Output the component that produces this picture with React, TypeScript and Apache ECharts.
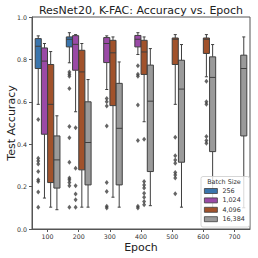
import React, { useEffect, useRef } from "react";
import * as echarts from "echarts";

const epochs = ["100", "200", "300", "400", "500", "600", "700"];
const batchSizes = ["256", "1,024", "4,096", "16,384"];
const colors = ["#3a75ad", "#9a4aa6", "#a1522b", "#9a9a9a"];

// [epochIndex, min, Q1, median, Q3, max]
const box256 = [
  [0, 0.588, 0.757, 0.862, 0.898, 0.911],
  [1, 0.784, 0.859, 0.895, 0.906, 0.926],
];
const box1024 = [
  [0, 0.146, 0.447, 0.792, 0.854, 0.875],
  [1, 0.553, 0.749, 0.871, 0.912, 0.917],
  [2, 0.658, 0.785, 0.875, 0.903, 0.911],
  [3, 0.823, 0.859, 0.895, 0.913, 0.926],
];
const box4096 = [
  [0, 0.103, 0.219, 0.588, 0.776, 0.837],
  [1, 0.103, 0.279, 0.741, 0.843, 0.875],
  [2, 0.15, 0.582, 0.831, 0.89, 0.906],
  [3, 0.506, 0.729, 0.835, 0.89, 0.906],
  [4, 0.588, 0.776, 0.895, 0.901, 0.917],
  [5, 0.718, 0.828, 0.895, 0.901, 0.917],
];
const box16384 = [
  [0, 0.091, 0.193, 0.326, 0.439, 0.534],
  [1, 0.103, 0.208, 0.408, 0.6, 0.705],
  [2, 0.103, 0.208, 0.475, 0.687, 0.788],
  [3, 0.11, 0.271, 0.603, 0.773, 0.851],
  [4, 0.103, 0.315, 0.66, 0.796, 0.87],
  [5, 0.099, 0.365, 0.715, 0.812, 0.87],
  [6, 0.1, 0.439, 0.757, 0.82, 0.906],
];

// [epochIndex, value]
const out256 = [
  [0, 0.517], [0, 0.334], [0, 0.321], [0, 0.307], [0, 0.271], [0, 0.232], [0, 0.224], [0, 0.174], [0, 0.103],
  [1, 0.741], [1, 0.73], [1, 0.721], [1, 0.663], [1, 0.483], [1, 0.431], [1, 0.315], [1, 0.24], [1, 0.232], [1, 0.219], [1, 0.204], [1, 0.103],
];
const out1024 = [
  [1, 0.478], [1, 0.287], [1, 0.204], [1, 0.165], [1, 0.138], [1, 0.103],
  [2, 0.616], [2, 0.6], [2, 0.58], [2, 0.486], [2, 0.219], [2, 0.177], [2, 0.107], [2, 0.099],
  [3, 0.77], [3, 0.73], [3, 0.721], [3, 0.585], [3, 0.417], [3, 0.107], [3, 0.099],
];
const out4096 = [
  [3, 0.423], [3, 0.224], [3, 0.208], [3, 0.193], [3, 0.169], [3, 0.15], [3, 0.13], [3, 0.114],
  [4, 0.433], [4, 0.345], [4, 0.326], [4, 0.31], [4, 0.266], [4, 0.255], [4, 0.24], [4, 0.166],
  [5, 0.697], [5, 0.6], [5, 0.588], [5, 0.436], [5, 0.417], [5, 0.404],
];
const out16384: number[][] = [];

const boxes = [box256, box1024, box4096, box16384];
const outliers = [out256, out1024, out4096, out16384];

const FONT = "DejaVu Sans";
const EDGE = "#3f3f3f";
const FRAME = "#555";

export default function App() {
  const ref = useRef<HTMLDivElement>(null);
  useEffect(() => {
    if (!ref.current) return;
    const chart = echarts.init(ref.current, null, { renderer: "svg" });
    const nHue = batchSizes.length;

    const boxSeries = boxes.map((data, idx) => ({
      type: "custom",
      name: batchSizes[idx],
      xAxisIndex: 0,
      yAxisIndex: 0,
      encode: { x: 0, y: [1, 2, 3, 4, 5] },
      itemStyle: { color: colors[idx] },
      z: 2,
      renderItem: (params: any, api: any) => {
        const xi = api.value(0);
        const band = api.size([1, 0])[0];
        const off = (idx - (nHue - 1) / 2) * band * (0.8 / nHue);
        const w = band * (0.8 / nHue) * 0.98;
        const pMin = api.coord([xi, api.value(1)]);
        const pQ1 = api.coord([xi, api.value(2)]);
        const pMed = api.coord([xi, api.value(3)]);
        const pQ3 = api.coord([xi, api.value(4)]);
        const pMax = api.coord([xi, api.value(5)]);
        const cx = pMin[0] + off;
        const ls = { stroke: EDGE, lineWidth: 1 };
        return {
          type: "group",
          children: [
            { type: "line", shape: { x1: cx, y1: pQ3[1], x2: cx, y2: pMax[1] }, style: ls },
            { type: "line", shape: { x1: cx, y1: pQ1[1], x2: cx, y2: pMin[1] }, style: ls },
            { type: "line", shape: { x1: cx - w / 4, y1: pMax[1], x2: cx + w / 4, y2: pMax[1] }, style: ls },
            { type: "line", shape: { x1: cx - w / 4, y1: pMin[1], x2: cx + w / 4, y2: pMin[1] }, style: ls },
            {
              type: "rect",
              shape: { x: cx - w / 2, y: pQ3[1], width: w, height: pQ1[1] - pQ3[1] },
              style: { fill: colors[idx], stroke: EDGE, lineWidth: 1 },
            },
            { type: "line", shape: { x1: cx - w / 2, y1: pMed[1], x2: cx + w / 2, y2: pMed[1] }, style: ls },
          ],
        };
      },
      data,
    }));

    const outSeries = outliers.map((data, idx) => ({
      type: "scatter",
      name: "out" + idx,
      xAxisIndex: 1,
      yAxisIndex: 0,
      symbol: "diamond",
      symbolSize: [4, 5],
      itemStyle: { color: EDGE },
      z: 3,
      data: data.map((d) => [d[0] + (idx - (nHue - 1) / 2) * (0.8 / nHue), d[1]]),
    }));

    chart.setOption({
      animation: false,
      backgroundColor: "#ffffff",
      grid: { left: 32, right: 8, top: 17, bottom: 29, show: true, borderColor: FRAME, borderWidth: 1 },
      xAxis: [
        {
          type: "category",
          data: epochs,
          boundaryGap: true,
          axisLine: { show: true, onZero: false, lineStyle: { color: FRAME, width: 1 } },
          axisTick: { show: true, alignWithLabel: true, length: 3, lineStyle: { color: FRAME } },
          axisLabel: { fontSize: 6.3, color: "#333", fontFamily: FONT, margin: 4 },
          splitLine: { show: false },
        },
        {
          type: "value",
          min: -0.5,
          max: epochs.length - 0.5,
          show: false,
          axisLine: { show: false, onZero: false },
          splitLine: { show: false },
        },
      ],
      yAxis: {
        type: "value",
        min: 0,
        max: 1,
        interval: 0.2,
        axisLine: { show: true, onZero: false, lineStyle: { color: FRAME, width: 1 } },
        axisTick: { show: true, length: 3, lineStyle: { color: FRAME } },
        axisLabel: {
          fontSize: 6.3,
          color: "#333",
          fontFamily: FONT,
          margin: 5,
          formatter: (v: number) => v.toFixed(1),
        },
        splitLine: { show: false },
      },
      legend: {
        orient: "vertical",
        left: 204,
        top: 186.5,
        padding: 0,
        itemGap: 0.4,
        itemWidth: 13,
        itemHeight: 5,
        icon: "rect",
        z: 5,
        data: batchSizes.map((b, i) => ({
          name: b,
          itemStyle: { color: colors[i], borderColor: EDGE, borderWidth: 0.8 },
        })),
        textStyle: { fontSize: 6.4, color: "#333", fontFamily: FONT, lineHeight: 9 },
        selectedMode: false,
      },
      graphic: [
        {
          type: "rect",
          z: 4,
          shape: { x: 201, y: 176.5, width: 48.5, height: 50.5, r: 2 },
          style: { fill: "rgba(255,255,255,0.8)", stroke: "#cccccc", lineWidth: 0.8 },
        },
        {
          type: "text",
          z: 5,
          x: 224,
          y: 181.7,
          style: {
            text: "Batch Size",
            fontSize: 6.4,
            fontFamily: FONT,
            fill: "#333",
            align: "center",
            verticalAlign: "middle",
          },
        },
        {
          type: "text",
          x: 141,
          y: 10,
          style: {
            text: "ResNet20, K-FAC: Accuracy vs. Epoch",
            fontSize: 11,
            fontFamily: FONT,
            fill: "#222",
            align: "center",
            verticalAlign: "middle",
          },
        },
        {
          type: "text",
          x: 11,
          y: 123,
          rotation: Math.PI / 2,
          style: {
            text: "Test Accuracy",
            fontSize: 11,
            fontFamily: FONT,
            fill: "#222",
            align: "center",
            verticalAlign: "middle",
          },
        },
        {
          type: "text",
          x: 141,
          y: 247.5,
          style: {
            text: "Epoch",
            fontSize: 11,
            fontFamily: FONT,
            fill: "#222",
            align: "center",
            verticalAlign: "middle",
          },
        },
      ],
      series: [...boxSeries, ...outSeries],
    });
    return () => chart.dispose();
  }, []);
  return (
    <div
      ref={ref}
      style={{ position: "fixed", left: 0, top: 0, width: 258, height: 258 }}
    />
  );
}
